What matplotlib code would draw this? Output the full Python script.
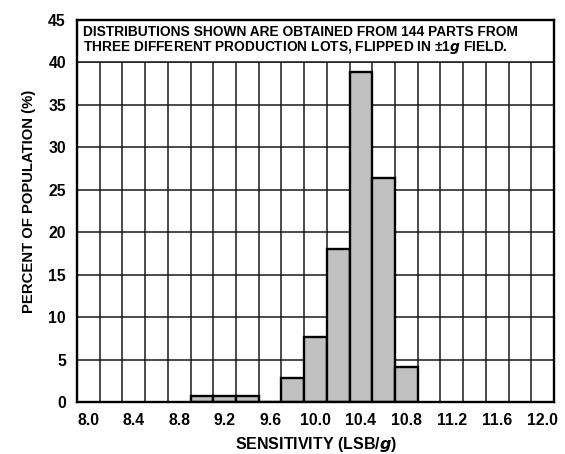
import matplotlib
matplotlib.use("Agg")
import matplotlib.pyplot as plt
import numpy as np

plt.rcParams['font.family'] = ['Liberation Sans', 'DejaVu Sans']
plt.rcParams['font.weight'] = 'bold'

bin_centers = [9.0, 9.2, 9.4, 9.6, 9.8, 10.0, 10.2, 10.4, 10.6, 10.8]
percent = [0.69, 0.69, 0.69, 0.0, 2.78, 7.64, 18.06, 38.9, 26.4, 4.17]
x_ticks = [8.0, 8.4, 8.8, 9.2, 9.6, 10.0, 10.4, 10.8, 11.2, 11.6, 12.0]
y_ticks = [0, 5, 10, 15, 20, 25, 30, 35, 40, 45]
note = ("DISTRIBUTIONS SHOWN ARE OBTAINED FROM 144 PARTS FROM\n"
        "THREE DIFFERENT PRODUCTION LOTS, FLIPPED IN \u00b11$\\it{g}$ FIELD.")

fig = plt.figure(figsize=(5.65, 4.54), dpi=100)
ax = fig.add_axes([77/565, 52/454, 477/565, 382/454])

ax.set_xlim(7.9, 12.1)
ax.set_ylim(0, 45)

edges = np.arange(8.1, 12.0, 0.2)
for e in edges:
    ax.axvline(e, color='#1a1a1a', lw=1.1, zorder=1)
for yv in y_ticks[1:-1]:
    ax.axhline(yv, color='#1a1a1a', lw=1.1, zorder=1)

ax.bar(bin_centers, percent, width=0.2, color='#c0c0c0', edgecolor='black',
       linewidth=1.7, zorder=3)

ax.add_patch(plt.Rectangle((7.9, 40), 4.2, 5, facecolor='white', edgecolor='#1a1a1a',
                           lw=1.1, zorder=4))
ax.text(7.953, 42.55, note, fontsize=9.9, fontweight='bold', va='center', ha='left',
        zorder=5, linespacing=0.98)

ax.set_xticks(x_ticks)
ax.set_xticklabels([f"{v:.1f}" for v in x_ticks], fontsize=11.3, fontweight='bold')
ax.set_yticks(y_ticks)
ax.set_yticklabels([str(v) for v in y_ticks], fontsize=11.3, fontweight='bold')
ax.tick_params(axis='x', which='major', length=0, pad=8)
ax.tick_params(axis='y', which='major', length=0, pad=8)
ax.set_xticks(edges, minor=True)
ax.tick_params(axis='x', which='minor', top=True, bottom=False, direction='in', length=4,
               width=1.1, color='#1a1a1a')

for s in ax.spines.values():
    s.set_linewidth(1.7)
    s.set_zorder(6)

ax.set_xlabel("SENSITIVITY (LSB/$\\it{g}$)", fontsize=11.5, fontweight='bold')
ax.xaxis.set_label_coords(0.5, -0.087)
ax.set_ylabel("PERCENT OF POPULATION (%)", fontsize=10.7, fontweight='bold')
ax.yaxis.set_label_coords(-0.087, 0.526)

fig.savefig("out.png", dpi=100)
